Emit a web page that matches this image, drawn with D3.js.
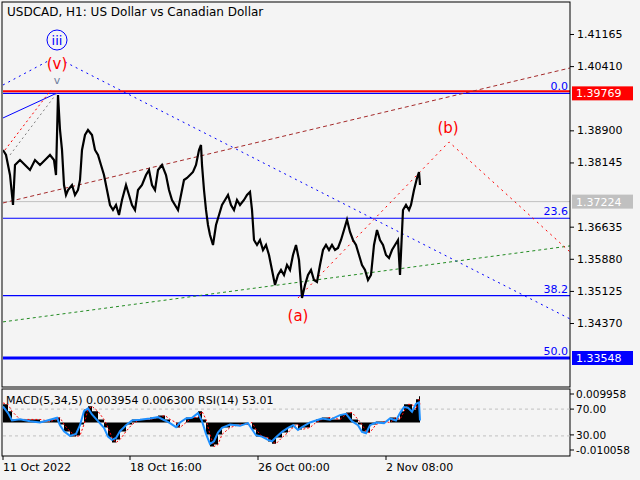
<!DOCTYPE html>
<html>
<head>
<meta charset="utf-8">
<script src="https://cdn.jsdelivr.net/npm/d3@7"></script>
<style>
body { margin: 0; background: #f4f4f4; }
text { font-family: "DejaVu Sans", sans-serif; font-size: 11px; }
</style>
</head>
<body>
<svg id="chart" width="640" height="480"></svg>
<script>
// price samples (bar index from 11 Oct 2022 00:00, H1)
var bars = [0,3,7,10,12,17,22,27,32,37,42,47,51,53,55,57,59,61,63,65,69,72,75,77,79,82,85,89,92,95,98,101,104,107,110,113,116,119,123,126,129,132,135,139,143,146,149,152,155,159,163,166,169,172,175,178,181,184,187,190,193,196,198,199,201,203,205,207,210,213,216,219,222,225,228,231,234,237,241,244,247,249,251,254,257,260,263,266,269,272,275,278,281,284,287,290,293,296,299,302,305,308,311,314,317,320,323,326,329,332,335,338,341,344,347,350,353,356,359,362,365,368,371,374,377,380,383,386,389,392,395,397,400,403,406,408,411,414,416,417];
var closes = [1.38439,1.38321,1.37850,1.37145,1.38086,1.38203,1.38086,1.37968,1.38203,1.38086,1.38203,1.38321,1.38203,1.37850,1.39731,1.38909,1.38439,1.37615,1.37380,1.37498,1.37615,1.37380,1.37498,1.37733,1.38439,1.38791,1.38909,1.38791,1.38439,1.38321,1.38086,1.37850,1.37498,1.37145,1.37028,1.37145,1.36910,1.37263,1.37615,1.37380,1.37145,1.37028,1.37498,1.37615,1.37850,1.37968,1.37615,1.37498,1.37968,1.38086,1.37850,1.37498,1.37263,1.37145,1.37028,1.37380,1.37733,1.37780,1.37850,1.37921,1.38086,1.38439,1.38556,1.38086,1.37498,1.37028,1.36675,1.36440,1.36205,1.36675,1.36910,1.37145,1.37263,1.37380,1.37145,1.37028,1.37263,1.37145,1.37263,1.37380,1.37451,1.37028,1.36322,1.36205,1.36322,1.36087,1.36205,1.35969,1.35617,1.35264,1.35499,1.35617,1.35499,1.35734,1.35617,1.35969,1.36205,1.35852,1.34959,1.35264,1.35499,1.35617,1.35382,1.35335,1.35734,1.36087,1.36205,1.36087,1.36205,1.36087,1.36134,1.36322,1.36557,1.36800,1.36510,1.36322,1.36205,1.35969,1.35734,1.35617,1.35382,1.35499,1.36205,1.36557,1.36322,1.36205,1.35969,1.35899,1.36087,1.36205,1.36322,1.35499,1.37028,1.37145,1.37028,1.37145,1.37498,1.37780,1.37921,1.37615,1.37263,1.37224];

// MACD(5,34,5) and RSI(14) samples
var indBars = [0,5,9,17,27,37,47,54,57,61,67,73,77,81,85,89,95,101,105,109,113,117,123,129,137,147,155,162,167,173,177,183,189,195,199,203,207,211,215,219,227,237,245,249,253,259,265,269,273,279,285,290,295,299,307,313,319,327,337,343,349,355,359,363,367,373,381,387,393,397,401,405,409,413,416,417];
var macd = [.0065,.0040,.0011,.0011,.0011,.0004,.0011,.0018,-.0007,-.0032,-.0050,-.0047,-.0007,.0047,.0058,.0040,.0011,-.0018,-.0054,-.0072,-.0061,-.0032,-.0007,.0011,.0011,.0018,.0025,.0011,0,-.0018,0,.0018,.0018,.0040,.0011,-.0043,-.0086,-.0079,-.0043,-.0018,-.0007,-.0007,0,-.0025,-.0050,-.0054,-.0068,-.0076,-.0054,-.0036,-.0018,-.0007,-.0025,-.0018,0,.0011,.0018,.0011,.0029,.0036,.0011,-.0007,-.0032,-.0036,-.0007,.0004,0,.0018,.0011,.0040,.0065,.0065,.0047,.0083,.0094,.0018];
var signal = [.0070,.0065,.0040,.0011,.0011,.0011,.0004,.0011,.0018,-.0007,-.0032,-.0050,-.0047,-.0007,.0047,.0058,.0040,.0011,-.0018,-.0054,-.0072,-.0061,-.0032,-.0007,.0011,.0011,.0018,.0025,.0011,0,-.0018,0,.0018,.0018,.0040,.0011,-.0043,-.0086,-.0079,-.0043,-.0018,-.0007,-.0007,0,-.0025,-.0050,-.0054,-.0068,-.0076,-.0054,-.0036,-.0018,-.0007,-.0025,-.0018,0,.0011,.0018,.0011,.0029,.0036,.0011,-.0007,-.0032,-.0036,-.0007,.0004,0,.0018,.0011,.0040,.0065,.0065,.0047,.0083,.0063];
var rsi = [74,64,53,55,52,50,54,57,46,37,30,33,46,67,71,62,52,42,29,24,27,37,46,53,54,56,58,53,49,43,50,56,57,64,52,33,18,22,35,42,47,45,49,40,31,29,24,22,28,36,42,46,39,43,50,53,56,54,61,63,52,46,36,34,46,50,49,56,53,64,73,72,66,78,80,53];

var priceTicks = [1.41165,1.40410,1.38900,1.38145,1.36635,1.35880,1.35125,1.34370];
var timeLabels = ["11 Oct 2022","18 Oct 16:00","26 Oct 00:00","2 Nov 08:00"];
var timeBars = [0,127,255,383];

var fib0 = 1.39769, fibRange = 0.12442;
var fibLevels = [0, 23.6, 38.2, 50.0];
var bid = 1.37224;

// trend / wave lines: [bar, price] pairs
var trendLines = [
  {pts: [[0,1.39966],[47,1.40554]], color: "#0000ff", dash: "2,4", w: 1},
  {pts: [[62,1.40507],[567,1.34467]], color: "#0000ff", dash: "2,4", w: 1},
  {pts: [[0,1.39191],[52,1.39755]], color: "#0000ff", dash: null, w: 1},
  {pts: [[2,1.38439],[48,1.39849]], color: "#ff0000", dash: "2,3", w: 1},
  {pts: [[7,1.38321],[54,1.39778]], color: "#808080", dash: "2,3", w: 1},
  {pts: [[0,1.37193],[567,1.40366]], color: "#a52a2a", dash: "4,3", w: 1},
  {pts: [[0,1.34397],[567,1.36183]], color: "#228b22", dash: "3,3", w: 1},
  {pts: [[295,1.34959],[446,1.38627],[567,1.36042]], color: "#ff0000", dash: "2,4", w: 1}
];

var svg = d3.select("#chart");
var padL = 3, padR = 570, padT = 2, padB = 387, indTop = 389, indBottom = 456;

var x = d3.scaleLinear().domain([0, 567]).range([padL, padR]);
var y = d3.scaleLinear().domain([1.32866, 1.41917]).range([padB, padT]);
var yM = d3.scaleLinear().domain([-0.012, 0.012]).range([indBottom, indTop]);
var yR = d3.scaleLinear().domain([0, 100]).range([indBottom, indTop]);

svg.append("rect").attr("width", 640).attr("height", 480).attr("fill", "#f4f4f4");

var main = svg.append("g");
var clip = svg.append("clipPath").attr("id", "mainclip");
clip.append("rect").attr("x", padL).attr("y", padT).attr("width", padR - padL).attr("height", padB - padT);
var plot = main.append("g").attr("clip-path", "url(#mainclip)");

// bid line
plot.append("line").attr("x1", padL).attr("x2", padR).attr("y1", y(bid)).attr("y2", y(bid))
  .attr("stroke", "#c0c0c0");

// fib levels
fibLevels.forEach(function(f) {
  var p = fib0 - fibRange * f / 100;
  plot.append("line").attr("x1", padL).attr("x2", padR).attr("y1", y(p)).attr("y2", y(p))
    .attr("stroke", "#0000ff").attr("stroke-width", f == 50 ? 3 : 1.2);
  main.append("text").attr("x", padR - 2).attr("y", y(p) - 3).attr("text-anchor", "end")
    .attr("fill", "#0000ff").text(f.toFixed(1));
});
plot.append("line").attr("x1", padL).attr("x2", padR).attr("y1", y(fib0) - 2).attr("y2", y(fib0) - 2)
  .attr("stroke", "#ff0000").attr("stroke-width", 2);

var line = d3.line().x(function(d) { return x(d[0]); }).y(function(d) { return y(d[1]); });
trendLines.forEach(function(t) {
  plot.append("path").attr("d", line(t.pts)).attr("fill", "none")
    .attr("stroke", t.color).attr("stroke-width", t.w).attr("stroke-dasharray", t.dash);
});

// price
plot.append("path")
  .attr("d", d3.line().x(function(d, i) { return x(bars[i]); }).y(function(d) { return y(d); })(closes))
  .attr("fill", "none").attr("stroke", "#000").attr("stroke-width", 2.2).attr("stroke-linejoin", "miter");

// wave labels
main.append("circle").attr("cx", x(54)).attr("cy", 40).attr("r", 10).attr("fill", "none").attr("stroke", "#0000ff");
main.append("text").attr("x", x(54)).attr("y", 45).attr("text-anchor", "middle").attr("fill", "#0000ff")
  .style("font-size", "13px").text("iii");
main.append("text").attr("x", x(54)).attr("y", 69).attr("text-anchor", "middle").attr("fill", "#ff0000")
  .style("font-size", "15px").text("(v)");
main.append("text").attr("x", x(54)).attr("y", 84).attr("text-anchor", "middle").attr("fill", "#6f7f9f")
  .style("font-size", "11px").text("v");
main.append("text").attr("x", x(445)).attr("y", 133).attr("text-anchor", "middle").attr("fill", "#ff0000")
  .style("font-size", "15px").text("(b)");
main.append("text").attr("x", x(295)).attr("y", 321).attr("text-anchor", "middle").attr("fill", "#ff0000")
  .style("font-size", "15px").text("(a)");

main.append("text").attr("x", 7).attr("y", 16).style("font-size", "12px").attr("fill", "#000")
  .text("USDCAD, H1:  US Dollar vs Canadian Dollar");

// frames
svg.append("rect").attr("x", padL - 1).attr("y", padT).attr("width", padR - padL + 1).attr("height", padB - padT)
  .attr("fill", "none").attr("stroke", "#000");
svg.append("rect").attr("x", padL - 1).attr("y", indTop).attr("width", padR - padL + 1).attr("height", indBottom - indTop)
  .attr("fill", "none").attr("stroke", "#000");

// price axis
var yAxis = d3.axisRight(y).tickValues(priceTicks).tickSize(4).tickFormat(d3.format(".5f"));
svg.append("g").attr("transform", "translate(" + padR + ",0)").call(yAxis)
  .call(function(g) { g.select(".domain").remove(); })
  .selectAll("text").attr("fill", "#000").style("font-size", "11px");

function tag(p, bg, fg) {
  svg.append("rect").attr("x", padR + 2).attr("y", y(p) - 7).attr("width", 61).attr("height", 14).attr("fill", bg);
  svg.append("text").attr("x", padR + 6).attr("y", y(p) + 4).attr("fill", fg).text(p.toFixed(5));
}
tag(fib0, "#ff0000", "#fff");
tag(bid, "#c0c0c0", "#fff");
tag(fib0 - fibRange * 0.5, "#0000ff", "#fff");

// indicator panel
var ind = svg.append("g");
[70, 30].forEach(function(v) {
  ind.append("line").attr("x1", padL).attr("x2", padR).attr("y1", yR(v)).attr("y2", yR(v))
    .attr("stroke", "#c0c0c0").attr("stroke-dasharray", "3,3");
});
ind.append("path")
  .attr("d", d3.area().x(function(d, i) { return x(indBars[i]); }).y0(yM(0)).y1(function(d) { return yM(d); })
    .curve(d3.curveStepAfter)(macd))
  .attr("fill", "#000");
ind.append("path")
  .attr("d", d3.line().x(function(d, i) { return x(indBars[i]); }).y(function(d) { return yM(d); })(signal))
  .attr("fill", "none").attr("stroke", "#ff0000").attr("stroke-dasharray", "2,2");
ind.append("path")
  .attr("d", d3.line().x(function(d, i) { return x(indBars[i]); }).y(function(d) { return yR(d); })(rsi))
  .attr("fill", "none").attr("stroke", "#1e90ff").attr("stroke-width", 2);
ind.append("text").attr("x", 6).attr("y", 404).attr("fill", "#000")
  .text("MACD(5,34,5) 0.003954 0.006300 RSI(14) 53.01");

var indTicks = [[indTop + 9, "0.009958"], [yR(70) + 4, "70.00"], [yR(30) + 3, "30.00"], [indBottom - 2, "-0.010058"]];
indTicks.forEach(function(t) {
  svg.append("line").attr("x1", padR).attr("x2", padR + 4).attr("y1", t[0] - 4).attr("y2", t[0] - 4).attr("stroke", "#000");
  svg.append("text").attr("x", padR + 6).attr("y", t[0]).attr("fill", "#000").style("font-size", "10.5px").text(t[1]);
});

// time axis
timeBars.forEach(function(b, i) {
  svg.append("line").attr("x1", x(b)).attr("x2", x(b)).attr("y1", indBottom).attr("y2", indBottom + 4).attr("stroke", "#000");
  svg.append("text").attr("x", x(b)).attr("y", 471).attr("fill", "#000").text(timeLabels[i]);
});
</script>
</body>
</html>
